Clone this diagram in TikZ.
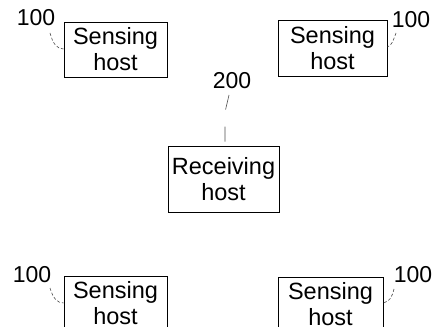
\documentclass[tikz,border=0pt]{standalone}
\usepackage{fontspec}
\setmainfont{Liberation Sans}
\begin{document}
\begin{tikzpicture}[x=1pt,y=1pt,
  hostbox/.style={draw=black, line width=0.9pt, align=center, inner sep=0pt,
    font=\fontsize{23.5}{26}\selectfont},
  reflabel/.style={inner sep=0pt, font=\fontsize{23}{26}\selectfont},
  leader/.style={draw=black!70, line width=0.6pt, dash pattern=on 3pt off 2pt}]
\useasboundingbox (0,0) rectangle (446,326);
\clip (0,0) rectangle (446,326);

% hosts
\node[hostbox, minimum width=103pt, minimum height=55pt] (s1) at (115.5,276.5) {Sensing\\host};
\node[hostbox, minimum width=109pt, minimum height=56pt] (s2) at (332.5,278) {Sensing\\host};
\node[hostbox, minimum width=111pt, minimum height=66pt] (r) at (223.5,147) {Receiving\\host};
\node[hostbox, minimum width=103pt, minimum height=55pt] (s3) at (115.5,22.5) {Sensing\\host};
\node[hostbox, minimum width=105pt, minimum height=55pt] (s4) at (330.5,21.5) {Sensing\\host};

% reference numerals
\node[reflabel] (l1) at (36,308) {100};
\node[reflabel] (l2) at (411,306) {100};
\node[reflabel] (l0) at (232,245) {200};
\node[reflabel] (l3) at (32,51) {100};
\node[reflabel] (l4) at (413,51) {100};

% leader lines
\coordinate (a1) at (50,293);
\coordinate (b1) at (s1.west |- 0,277);
\draw[leader] (a1) .. controls (53,282) and (57,277) .. (b1);

\coordinate (a2) at (396,293);
\coordinate (b2) at (s2.east |- 0,279);
\draw[leader] (a2) .. controls (393,285) and (392,281) .. (b2);

\coordinate (a0) at (229,231);
\draw[draw=black!70, line width=0.6pt, dash pattern=on 15pt off 17pt]
  (a0) -- (225,214) -- (r.north -| 225,0);

\coordinate (a3) at (50,38);
\coordinate (b3) at (s3.west |- 0,23);
\draw[leader] (a3) .. controls (53,28) and (57,23) .. (b3);

\coordinate (a4) at (394,37);
\coordinate (b4) at (s4.east |- 0,23);
\draw[leader] (a4) .. controls (392,29) and (390,25) .. (b4);
\end{tikzpicture}
\end{document}
